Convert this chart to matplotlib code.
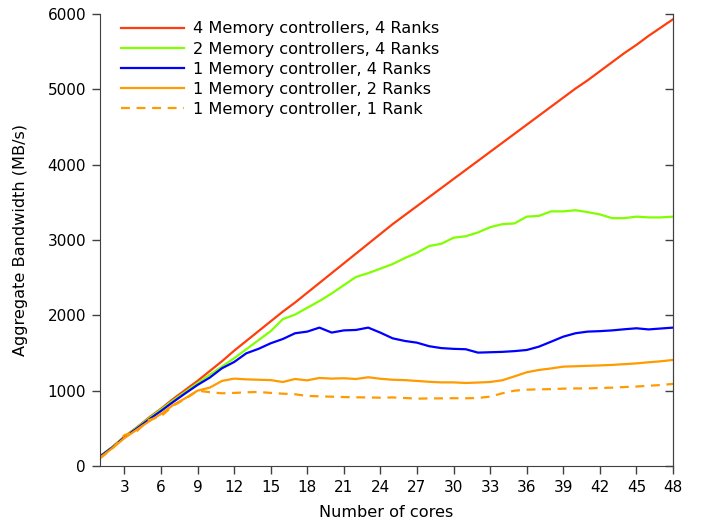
import numpy as np
import matplotlib
matplotlib.use("Agg")
import matplotlib.pyplot as plt

# Aggregate bandwidth (MB/s) vs number of cores
cores = np.arange(1, 49)

mc4_r4 = [130, 250, 390, 510, 640, 760, 890, 1010, 1130, 1260, 1390, 1530,
          1660, 1790, 1920, 2050, 2170, 2300, 2430, 2560, 2690, 2820, 2950, 3080,
          3210, 3330, 3450, 3570, 3690, 3810, 3930, 4050, 4170, 4290, 4410, 4530,
          4650, 4770, 4890, 5010, 5120, 5240, 5360, 5480, 5590, 5710, 5820, 5930]
mc2_r4 = [130, 250, 385, 505, 630, 750, 870, 985, 1100, 1210, 1320, 1430,
          1550, 1670, 1790, 1950, 2010, 2100, 2190, 2290, 2400, 2510, 2560, 2620,
          2680, 2760, 2830, 2920, 2950, 3030, 3050, 3100, 3170, 3210, 3220, 3310,
          3320, 3380, 3380, 3395, 3370, 3340, 3290, 3290, 3310, 3300, 3300, 3310]
mc1_r4 = [125, 245, 380, 495, 615, 730, 850, 965, 1076, 1173, 1297, 1380,
          1496, 1555, 1629, 1686, 1762, 1784, 1837, 1771, 1800, 1806, 1837, 1770,
          1695, 1660, 1637, 1590, 1565, 1555, 1550, 1505, 1510, 1515, 1525, 1540,
          1584, 1650, 1717, 1762, 1784, 1790, 1800, 1815, 1828, 1813, 1825, 1837]
mc1_r2 = [110, 235, 370, 480, 590, 690, 810, 900, 1000, 1040, 1129, 1160,
          1150, 1145, 1140, 1115, 1155, 1137, 1169, 1160, 1165, 1155, 1178, 1158,
          1145, 1140, 1129, 1118, 1110, 1110, 1102, 1108, 1115, 1138, 1190, 1244,
          1275, 1295, 1319, 1324, 1330, 1335, 1342, 1352, 1362, 1377, 1390, 1408]
mc1_r1 = [100, 230, 410, 460, 610, 660, 800, 890, 1000, 980, 965, 970,
          978, 983, 970, 960, 952, 930, 925, 920, 915, 912, 910, 907,
          910, 903, 894, 897, 898, 900, 899, 903, 921, 965, 1000, 1013,
          1018, 1020, 1027, 1030, 1030, 1035, 1040, 1048, 1055, 1065, 1075, 1090]

plt.rcParams["font.family"] = "DejaVu Sans"
plt.rcParams["font.size"] = 11

fig = plt.figure(figsize=(7.06, 5.22), dpi=100)
ax = fig.add_axes([100 / 706, 1 - 466 / 522, 573 / 706, 452 / 522])

lw = 1.6
ax.plot(cores, mc4_r4, color="#ff3d0d", lw=lw, label="4 Memory controllers, 4 Ranks")
ax.plot(cores, mc2_r4, color="#80ff00", lw=lw, label="2 Memory controllers, 4 Ranks")
ax.plot(cores, mc1_r4, color="#0000ff", lw=lw, label="1 Memory controller, 4 Ranks")
ax.plot(cores, mc1_r2, color="#ff9a00", lw=lw, label="1 Memory controller, 2 Ranks")
ax.plot(cores, mc1_r1, color="#ff9a00", lw=lw, ls=(0, (4, 3)),
        label="1 Memory controller, 1 Rank")

ax.set_xlim(1, 48)
ax.set_ylim(0, 6000)
ax.set_xticks(np.arange(3, 49, 3))
ax.set_yticks(np.arange(0, 6001, 1000))
ax.tick_params(direction="out", length=6, width=1, color="#404040", pad=4)

ax.spines["top"].set_visible(False)
for s in ("left", "bottom", "right"):
    ax.spines[s].set_color("#404040")

# inward ticks on the right side
ax2 = ax.twinx()
ax2.set_ylim(0, 6000)
ax2.set_yticks(np.arange(0, 6001, 1000))
ax2.tick_params(direction="in", length=6, width=1, color="#404040", labelright=False)
ax2.spines["top"].set_visible(False)
ax2.spines["right"].set_color("#404040")
ax2.spines["left"].set_visible(False)
ax2.spines["bottom"].set_visible(False)

ax.set_xlabel("Number of cores", fontsize=11.6, labelpad=7)
ax.set_ylabel("Aggregate Bandwidth (MB/s)", fontsize=11.6, labelpad=14)

ax.legend(loc="upper left", bbox_to_anchor=(0.0, 1.03), frameon=False,
          fontsize=11.6, handlelength=3.9, handletextpad=0.55, labelspacing=0.32,
          borderaxespad=0.9)

fig.savefig("out.png", dpi=100)
